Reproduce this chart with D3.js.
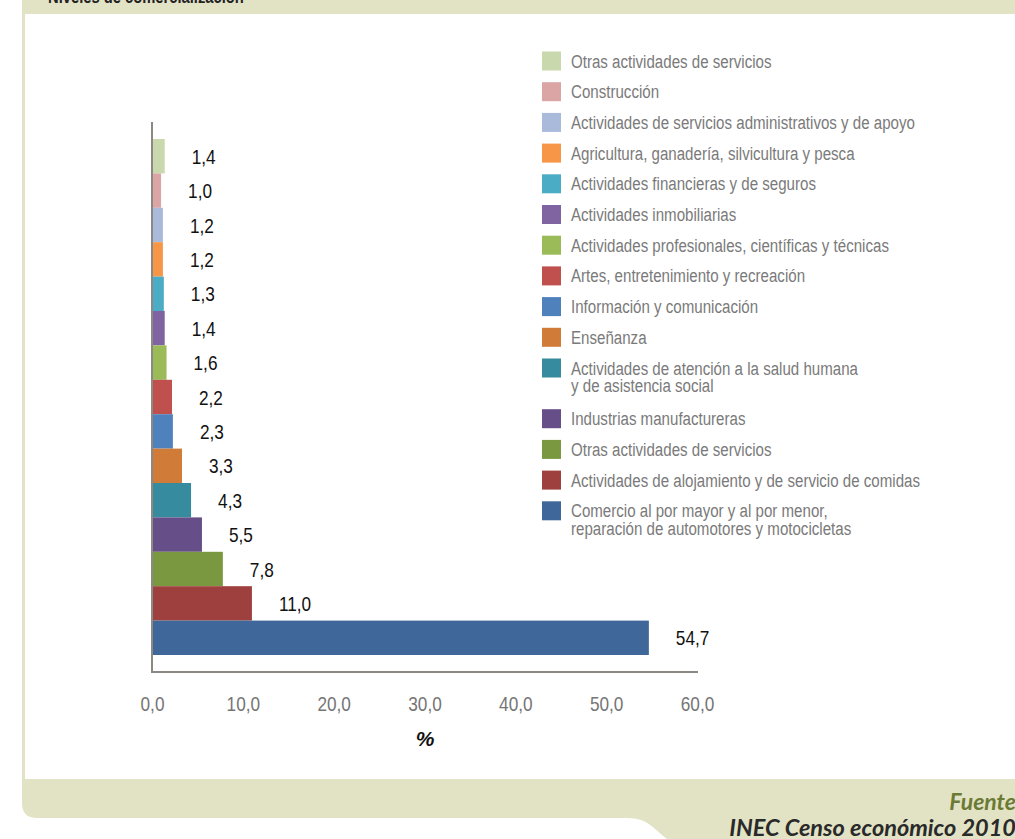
<!DOCTYPE html>
<html>
<head>
<meta charset="utf-8">
<script src="https://cdn.jsdelivr.net/npm/d3@7"></script>
<style>
  html, body { margin: 0; padding: 0; background: #ffffff; }
  svg { display: block; }
</style>
</head>
<body>
<svg id="chart" width="1015" height="839"></svg>
<script>
// ---- data (top-to-bottom order) ----
const categories = [
  "Otras actividades de servicios",
  "Construcción",
  "Actividades de servicios administrativos y de apoyo",
  "Agricultura, ganadería, silvicultura y pesca",
  "Actividades financieras y de seguros",
  "Actividades inmobiliarias",
  "Actividades profesionales, científicas y técnicas",
  "Artes, entretenimiento y recreación",
  "Información y comunicación",
  "Enseñanza",
  "Actividades de atención a la salud humana\ny de asistencia social",
  "Industrias manufactureras",
  "Otras actividades de servicios ",
  "Actividades de alojamiento y de servicio de comidas",
  "Comercio al por mayor y al por menor,\nreparación de automotores y motocicletas"
];
const values = [1.4, 1.0, 1.2, 1.2, 1.3, 1.4, 1.6, 2.2, 2.3, 3.3, 4.3, 5.5, 7.8, 11.0, 54.7];
const colors = ["#c9d9ad", "#daa5a4", "#a9badb", "#f79646", "#4bacc6", "#8064a2", "#9bbb59",
                "#c0504d", "#4f81bd", "#d07b38", "#378b9f", "#664f88", "#7a9840", "#9e403d", "#3f6799"];
const xTicks = [0, 10, 20, 30, 40, 50, 60];
const xTitle = "%";
const headerTitle = "Niveles de comercialización";
const sourceLabel = "Fuente";
const sourceText = "INEC Censo económico 2010";

const svg = d3.select("#chart");
const beige = "#e2e3c5";
const sans = "'Liberation Sans', Arial, sans-serif";
const narrowScale = 0.82;

// ---- frame ----
svg.append("rect").attr("x", 22).attr("y", 0).attr("width", 1015 - 22).attr("height", 14).attr("fill", beige);
svg.append("rect").attr("x", 22).attr("y", 0).attr("width", 3).attr("height", 790).attr("fill", beige);
svg.append("path")
  .attr("d", "M22,779 L1015,779 L1015,839 L667,839 C655,830 648,818 628,818 L37,818 Q22,818 22,803 Z")
  .attr("fill", beige);

svg.append("text")
  .attr("transform", `translate(48,3) scale(${narrowScale},1)`)
  .attr("font-family", sans)
  .attr("font-weight", "bold").attr("font-size", 18).attr("fill", "#222")
  .text(headerTitle);

// ---- scales ----
const x = d3.scaleLinear().domain([0, 60]).range([152, 697]);
const y = d3.scaleBand().domain(d3.range(categories.length)).range([139, 655]).padding(0);

// bars
svg.append("g").selectAll("rect").data(values).join("rect")
  .attr("x", x(0))
  .attr("y", (d, i) => y(i))
  .attr("width", d => x(d) - x(0))
  .attr("height", y.bandwidth())
  .attr("fill", (d, i) => colors[i]);

// value labels
svg.append("g").selectAll("text").data(values).join("text")
  .attr("transform", (d, i) => `translate(${x(d) + 27},${y(i) + y.bandwidth() / 2 + 7.5}) scale(${narrowScale},1)`)
  .attr("font-family", sans).attr("font-size", 21).attr("fill", "#111")
  .text(d => d.toFixed(1).replace(".", ","));

// axes
const axisColor = "#8c8884";
svg.append("line").attr("x1", 152).attr("x2", 152).attr("y1", 122).attr("y2", 673)
  .attr("stroke", axisColor).attr("stroke-width", 2);

const xAxis = svg.append("g").attr("transform", "translate(0,672)")
  .call(d3.axisBottom(x).tickValues(xTicks).tickSize(0).tickPadding(24)
    .tickFormat(d => d.toFixed(1).replace(".", ",")));
xAxis.select(".domain").attr("stroke", axisColor).attr("stroke-width", 2).attr("d", "M151,0H698");
xAxis.selectAll("text").attr("font-family", sans).attr("font-size", 21).attr("fill", "#757575")
  .attr("transform", `scale(${narrowScale},1)`);

svg.append("text")
  .attr("x", 425).attr("y", 746).attr("text-anchor", "middle")
  .attr("font-family", sans)
  .attr("font-weight", "bold").attr("font-style", "italic").attr("font-size", 21).attr("fill", "#111")
  .text(xTitle);

// ---- legend ----
let ly = 61;
const legendRows = categories.map((c, i) => {
  const lines = c.trim().split("\n");
  const row = { lines, color: colors[i], y: ly };
  ly += 30.7 + (lines.length - 1) * 20;
  return row;
});
const lg = svg.append("g").selectAll("g").data(legendRows).join("g")
  .attr("transform", d => `translate(542,${d.y})`);
lg.append("rect").attr("x", 0).attr("y", -9.5).attr("width", 19).attr("height", 19)
  .attr("fill", d => d.color);
const ltext = lg.append("text")
  .attr("font-family", sans).attr("font-size", 18).attr("fill", "#7a7a7a");
ltext.selectAll("tspan").data(d => d.lines).join("tspan")
  .attr("x", 0).attr("dy", (d, i) => i === 0 ? 0 : 18)
  .text(d => d);
let maxLen = 0;
ltext.selectAll("tspan").each(function () { maxLen = Math.max(maxLen, this.getComputedTextLength()); });
const legendScale = 349 / maxLen;
ltext.attr("transform", `translate(29,6.5) scale(${legendScale},1)`);

// ---- source ----
svg.append("text")
  .attr("x", 1016).attr("y", 810).attr("text-anchor", "end")
  .attr("font-family", "Lato, 'Open Sans', sans-serif")
  .attr("font-weight", "bold").attr("font-style", "italic").attr("font-size", 23).attr("fill", "#6b7a34")
  .text(sourceLabel);
svg.append("text")
  .attr("x", 1016).attr("y", 836).attr("text-anchor", "end")
  .attr("font-family", "Lato, 'Open Sans', sans-serif")
  .attr("font-weight", "bold").attr("font-style", "italic").attr("font-size", 23.5).attr("fill", "#2a2a2a")
  .text(sourceText);
</script>
</body>
</html>
